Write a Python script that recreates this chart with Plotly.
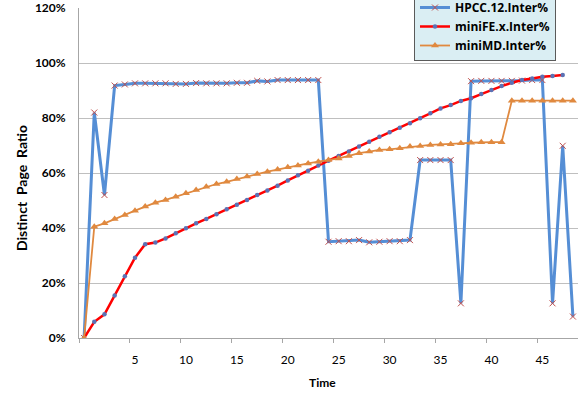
import plotly.graph_objects as go

time = list(range(49))

hpcc = [0, 82, 52, 91.8, 92.2, 92.6, 92.6, 92.6, 92.6, 92.4, 92.4, 92.7, 92.6, 92.6,
        92.6, 92.8, 92.8, 93.5, 93.3, 93.8, 93.8, 93.8, 93.8, 93.8,
        35.0, 35.2, 35.2, 35.6, 34.8, 35.0, 35.2, 35.2, 35.6,
        64.7, 64.7, 64.7, 64.7, 12.6,
        93.4, 93.5, 93.5, 93.5, 93.5, 93.6, 93.8, 93.8,
        12.6, 69.9, 7.8]

minife = [0, 5.9, 8.6, 15.5, 22.5, 29.2, 34.1, 34.7, 36.2, 38.1, 39.9, 41.7, 43.3,
          45.0, 46.8, 48.5, 50.2, 52.0, 53.6, 55.4, 57.3, 59.2, 60.8, 62.7, 64.5,
          66.2, 67.8, 69.6, 71.4, 73.2, 74.8, 76.5, 78.1, 79.9, 81.7, 83.5, 84.7,
          86.2, 87.2, 88.7, 90.2, 91.6, 92.8, 93.8, 94.4, 95.0, 95.3, 95.6]

minimd = [0, 40.5, 41.7, 43.3, 44.7, 46.3, 47.8, 49.2, 50.2, 51.4, 52.6, 53.8, 55.0,
          56.0, 56.8, 57.8, 58.7, 59.6, 60.5, 61.3, 62.1, 62.7, 63.5, 64.1, 64.7,
          65.3, 66.2, 67.2, 67.8, 68.4, 68.6, 69.0, 69.6, 69.8, 70.2, 70.4, 70.5,
          70.8, 71.0, 71.2, 71.2, 71.2, 86.3, 86.3, 86.3, 86.3, 86.3, 86.3, 86.3]

series_names = ["HPCC.12.Inter%", "miniFE.x.Inter%", "miniMD.Inter%"]
x_tick_vals = [5, 10, 15, 20, 25, 30, 35, 40, 45]
x_minor_ticks = [-0.5, 4.5, 9.5, 14.5, 19.5, 24.5, 29.5, 34.5, 39.5, 44.5]
y_tick_vals = [0, 20, 40, 60, 80, 100, 120]
y_tick_text = ["0%", "20%", "40%", "60%", "80%", "100%", "120%"]

FONT = "Lato"

fig = go.Figure()
fig.add_trace(go.Scatter(
    x=time[:len(hpcc)], y=hpcc, name=series_names[0], mode="lines+markers",
    line=dict(color="#558ED5", width=3),
    marker=dict(symbol="x-thin-open", size=6, color="#C0504D",
                line=dict(color="#C0504D", width=1)),
))
fig.add_trace(go.Scatter(
    x=time[:len(minife)], y=minife, name=series_names[1], mode="lines+markers",
    line=dict(color="#FF0000", width=2.5),
    marker=dict(symbol="circle", size=4.5, color="#5B72B5"),
))
fig.add_trace(go.Scatter(
    x=time[:len(minimd)], y=minimd, name=series_names[2], mode="lines+markers",
    line=dict(color="#E0893F", width=1.8),
    marker=dict(symbol="triangle-up", size=7, color="#E0893F"),
))

fig.update_layout(
    width=585, height=396,
    margin=dict(l=79, r=7, t=8, b=58, autoexpand=False),
    paper_bgcolor="white", plot_bgcolor="white",
    font=dict(family=FONT, color="#000000"),
    showlegend=True,
    legend=dict(
        x=(414 - 79) / 499, xanchor="left",
        y=(338 + 8) / 330, yanchor="top",
        bgcolor="#DAEEF3", bordercolor="#5A5A5A", borderwidth=1,
        font=dict(family="Open Sans", size=12, color="#000000", weight="bold"),
        tracegroupgap=0, itemwidth=30,
    ),
    xaxis=dict(
        range=[-0.5, 48.5], tickmode="array", tickvals=x_tick_vals,
        ticks="", showgrid=False, zeroline=False,
        showline=True, linecolor="#A6A6A6", linewidth=1,
        tickfont=dict(family=FONT, size=12, color="#000000"),
        ticklabelstandoff=11,
        minor=dict(tickmode="array", tickvals=x_minor_ticks, ticks="outside",
                   ticklen=4, tickcolor="#A6A6A6", showgrid=False),
    ),
    yaxis=dict(
        range=[0, 120], tickmode="array", tickvals=y_tick_vals, ticktext=y_tick_text,
        showgrid=True, gridcolor="#BFBFBF", gridwidth=1, zeroline=False,
        showline=True, linecolor="#A6A6A6", linewidth=1,
        ticks="", ticklabelstandoff=10,
        tickfont=dict(family=FONT, size=12, color="#000000", weight="bold"),
    ),
    annotations=[
        dict(text="Distinct\u00a0 Page\u00a0 Ratio", textangle=-90,
             xref="paper", yref="paper", x=(21 - 79) / 499, y=(338 - 188) / 330,
             xanchor="center", yanchor="middle", showarrow=False,
             font=dict(family=FONT, size=14, color="#000000", weight="bold")),
        dict(text="Time", xref="paper", yref="paper",
             x=(322 - 79) / 499, y=(338 - 383) / 330,
             xanchor="center", yanchor="middle", showarrow=False,
             font=dict(family=FONT, size=12, color="#000000", weight="bold")),
    ],
)

fig.write_html("out.html", config={"displayModeBar": False},
               post_script="document.body.style.margin='0';")
